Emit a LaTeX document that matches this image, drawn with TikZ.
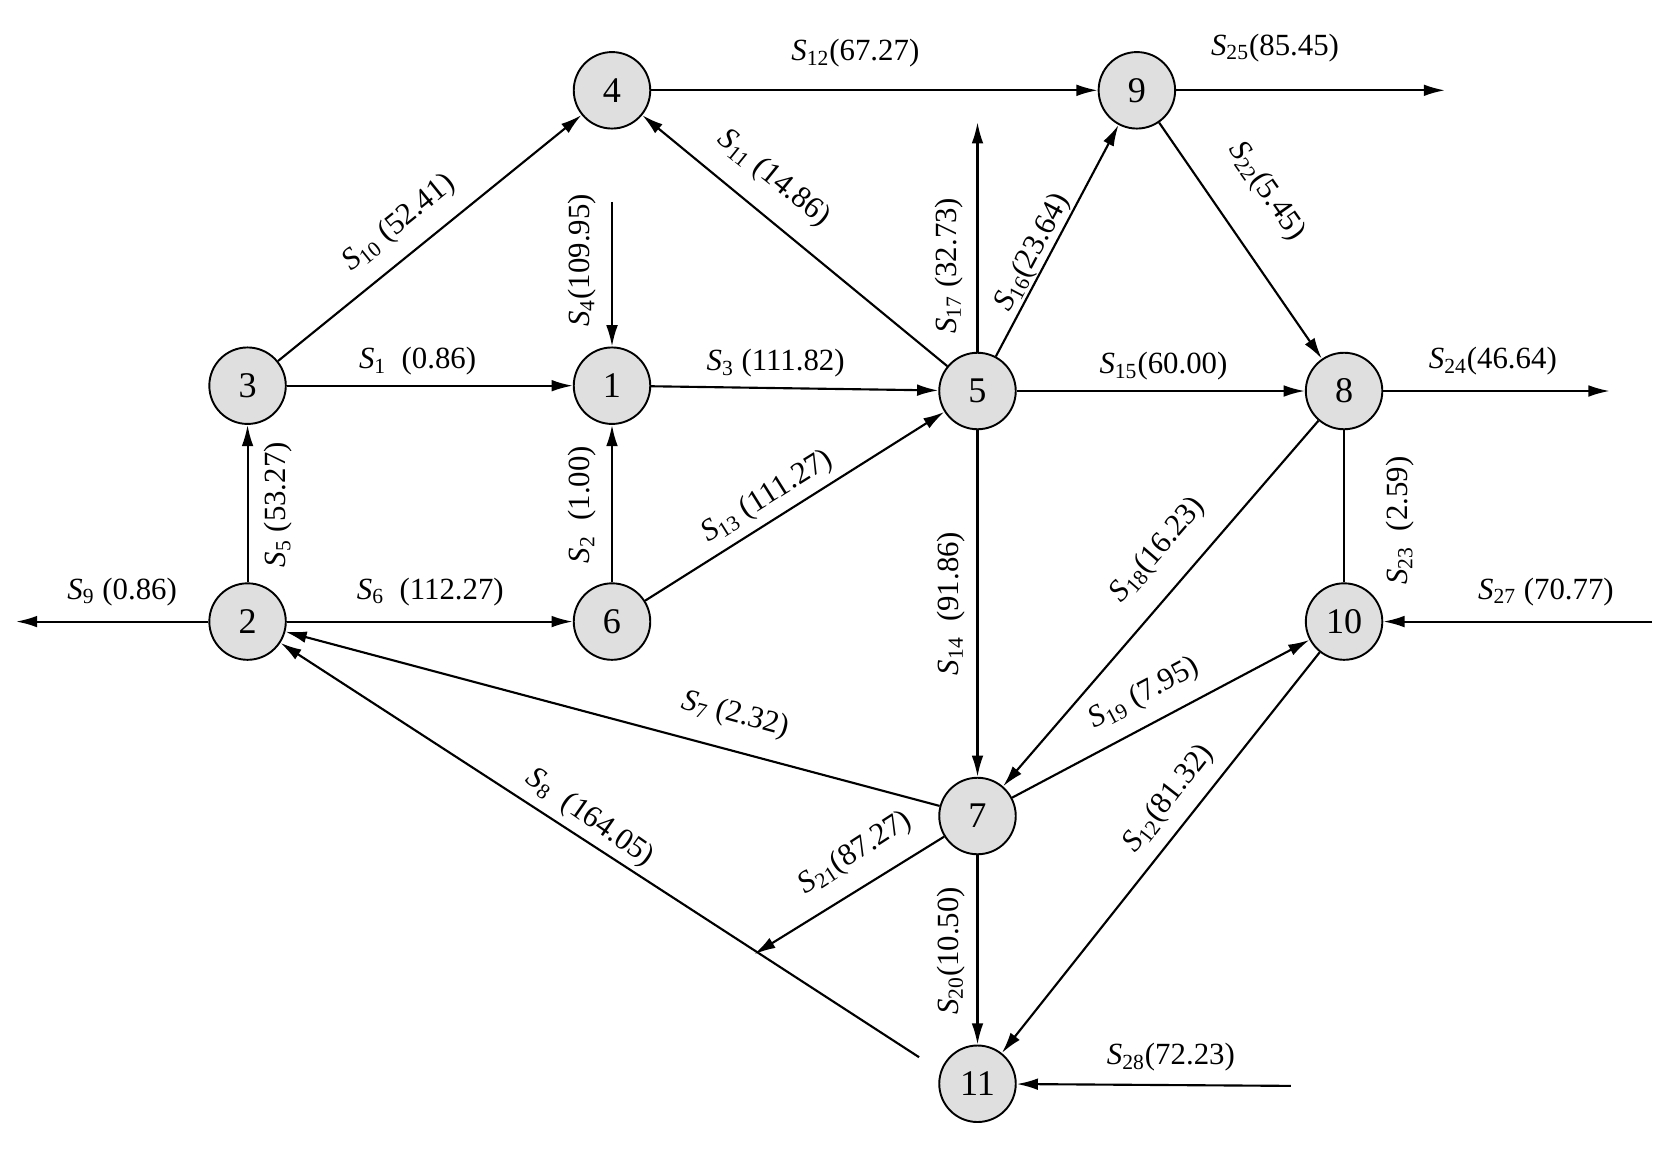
\documentclass[tikz,border=0pt]{standalone}
\usepackage{fontspec}
\setmainfont{Liberation Serif}
\usetikzlibrary{arrows.meta}
\newcommand{\Sx}[1]{\textit{S}\textsubscript{#1}}
\begin{document}
\begin{tikzpicture}[x=0.5pt,y=-0.5pt,
  st/.style={circle,draw,line width=0.9pt,fill=gray!25,minimum size=36pt,inner sep=0pt,font=\fontsize{17}{18}\selectfont},
  e/.style={line width=1pt,-{Latex[length=10pt,width=5.5pt]}},
  p/.style={line width=1pt},
  lb/.style={font=\fontsize{14.5}{16}\selectfont,inner sep=1pt}]
\useasboundingbox (0,0) rectangle (1568,1082);
\node[st] (n4) at (576,85) {4};
\node[st] (n9) at (1070,85) {9};
\node[st] (n3) at (233,363) {3};
\node[st] (n1) at (576,363) {1};
\node[st] (n5) at (920,368) {5};
\node[st] (n8) at (1265,368) {8};
\node[st] (n2) at (233,585) {2};
\node[st] (n6) at (576,585) {6};
\node[st] (n10) at (1265,585) {10};
\node[st] (n7) at (920,768) {7};
\node[st] (n11) at (920,1020) {11};
\coordinate (o25) at (1360,85);
\coordinate (i4) at (576,190);
\coordinate (o17) at (920,115);
\coordinate (o24) at (1515,368);
\coordinate (i27) at (1555,585);
\coordinate (o9) at (15,585);
\coordinate (o21) at (710,898);
\coordinate (b8) at (865,995);
\coordinate (i28) at (1215,1022);
\draw[e] (n4) -- (n9);
\draw[e] (n9) -- (o25);
\draw[e] (n9) -- (n8);
\draw[e] (n5) -- (n4);
\draw[e] (n3) -- (n4);
\draw[e] (i4) -- (n1);
\draw[e] (n3) -- (n1);
\draw[e] (n1) -- (n5);
\draw[e] (n5) -- (o17);
\draw[e] (n5) -- (n9);
\draw[e] (n5) -- (n8);
\draw[e] (n8) -- (o24);
\draw[p] (n8) -- (n10);
\draw[e] (i27) -- (n10);
\draw[e] (n2) -- (n3);
\draw[e] (n6) -- (n1);
\draw[e] (n6) -- (n5);
\draw[e] (n2) -- (o9);
\draw[e] (n2) -- (n6);
\draw[e] (n5) -- (n7);
\draw[e] (n8) -- (n7);
\draw[e] (n7) -- (n10);
\draw[e] (n7) -- (n2);
\draw[e] (b8) -- (n2);
\draw[e] (n7) -- (o21);
\draw[e] (n7) -- (n11);
\draw[e] (n10) -- (n11);
\draw[e] (i28) -- (n11);
\node[lb] (l12) at (805,50) {\Sx{12}(67.27)};
\node[lb] (l25) at (1200,45) {\Sx{25}(85.45)};
\node[lb,rotate=-55] (l22) at (1192,180) {\Sx{22}(5.45)};
\node[lb,rotate=-39] (l11) at (728,168) {\Sx{11}\ (14.86)};
\node[lb,rotate=39] (l10) at (376,210) {\Sx{10}\ (52.41)};
\node[lb,rotate=90] (l4) at (548,245) {\Sx{4}(109.95)};
\node[lb] (l1) at (393,340) {\Sx{1}\ \ (0.86)};
\node[lb] (l3) at (730,342) {\Sx{3}\ (111.82)};
\node[lb,rotate=90] (l17) at (893,250) {\Sx{17}\ (32.73)};
\node[lb,rotate=62] (l16) at (972,238) {\Sx{16}(23.64)};
\node[lb] (l15) at (1095,345) {\Sx{15}(60.00)};
\node[lb] (l24) at (1405,340) {\Sx{24}(46.64)};
\node[lb,rotate=90] (l23) at (1318,490) {\Sx{23}\ \ (2.59)};
\node[lb] (l27) at (1455,557) {\Sx{27}\ (70.77)};
\node[lb,rotate=90] (l5) at (262,475) {\Sx{5}\ (53.27)};
\node[lb,rotate=90] (l2) at (548,475) {\Sx{2}\ \ (1.00)};
\node[lb,rotate=32] (l13) at (722,468) {\Sx{13}\ (111.27)};
\node[lb] (l9) at (115,557) {\Sx{9}\ (0.86)};
\node[lb] (l6) at (405,557) {\Sx{6}\ \ (112.27)};
\node[lb,rotate=90] (l14) at (895,568) {\Sx{14}\ \ (91.86)};
\node[lb,rotate=49] (l18) at (1090,518) {\Sx{18}(16.23)};
\node[lb,rotate=28] (l19) at (1077,653) {\Sx{19}\ (7.95)};
\node[lb,rotate=-15] (l7) at (692,673) {\Sx{7}\ (2.32)};
\node[lb,rotate=-35] (l8) at (555,770) {\Sx{8}\ \ (164.05)};
\node[lb,rotate=33] (l21) at (805,803) {\Sx{21}(87.27)};
\node[lb,rotate=90] (l20) at (895,895) {\Sx{20}(10.50)};
\node[lb,rotate=52] (l12b) at (1100,752) {\Sx{12}(81.32)};
\node[lb] (l28) at (1102,995) {\Sx{28}(72.23)};
\end{tikzpicture}
\end{document}
